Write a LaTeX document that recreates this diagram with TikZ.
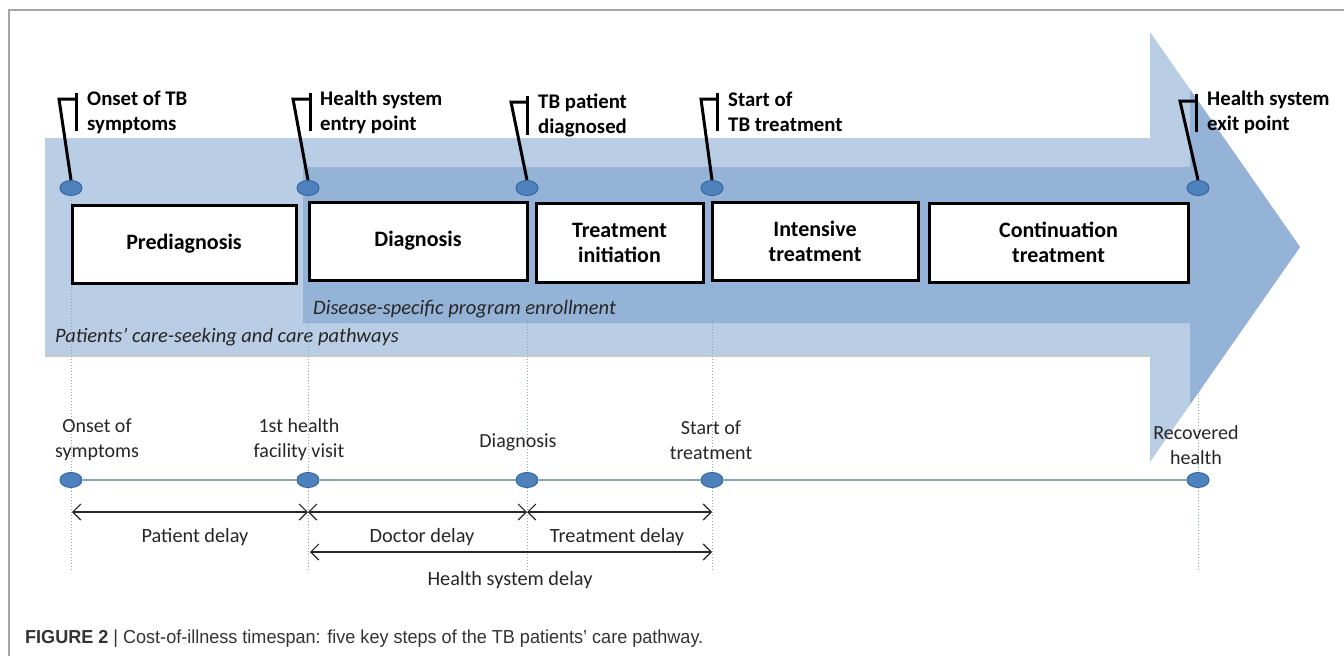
\documentclass[tikz,border=0pt]{standalone}
\usepackage{fontspec}
\setmainfont{Carlito}
\newfontfamily\capfont[FakeStretch=0.96]{Liberation Sans}
\usetikzlibrary{shapes.geometric,arrows.meta}
\definecolor{lightband}{HTML}{B9CDE5}
\definecolor{darkband}{HTML}{95B3D7}
\definecolor{dotfill}{HTML}{4F81BD}
\definecolor{dotedge}{HTML}{3467A3}
\definecolor{guide}{HTML}{8AA4C4}
\definecolor{tline}{HTML}{86A4B4}
\definecolor{txt}{HTML}{262626}
\begin{document}
\begin{tikzpicture}[x=1pt,y=-1pt,
  pin/.style={ellipse,draw=dotedge,fill=dotfill,line width=1pt,minimum width=22pt,minimum height=15pt,inner sep=0pt},
  stagebox/.style={draw=black,fill=white,line width=3pt,align=center,inner sep=0pt,font=\fontsize{22}{25}\selectfont\bfseries},
  callout/.style={anchor=west,align=left,inner sep=0pt,font=\fontsize{20.8}{25}\selectfont\bfseries},
  calloutline/.style={line width=3pt,black,line join=miter},
  guideline/.style={guide,line width=1pt,dotted},
  tlabel/.style={align=center,inner sep=0pt,text=txt,font=\fontsize{20}{25}\selectfont},
  dlabel/.style={inner sep=0pt,text=txt,font=\fontsize{20.3}{24}\selectfont},
  span/.style={{Straight Barb[length=8pt,width=16pt]}-{Straight Barb[length=8pt,width=16pt]},line width=1.2pt,black!85},
  band/.style={anchor=west,inner sep=0pt,text=txt,font=\fontsize{20.5}{24}\selectfont\itshape}
]
\useasboundingbox (0,0) rectangle (1344,656);
% frame
\draw[gray!70,line width=1.2pt] (9,656) -- (9,10) -- (1344,10);
% big arrows
\fill[lightband] (45,138) -- (1150,138) -- (1150,32) -- (1300,247) -- (1150,462) -- (1150,355) -- (45,355) -- cycle;
\draw[black!35,line width=1.5pt,opacity=0.6] (45,356) -- (1150,356);
\fill[darkband] (303,167) -- (1190,167) -- (1190,89.5) -- (1300,247) -- (1190,404.5) -- (1190,323) -- (303,323) -- cycle;
\node[band] (b2) at (313,309) {Disease-specific program enrollment};
\node[band] (b1) at (55,337) {Patients’ care-seeking and care pathways};
% guide lines
\foreach \x/\n in {71/1,308/2,527/3,712/4,1198/5}{
  \coordinate (gt\n) at (\x,188);
  \coordinate (gb\n) at (\x,570);
  \draw[guideline] (gt\n) -- (gb\n);
}
% stage boxes
\node[stagebox,minimum width=224pt,minimum height=78pt] (s1) at (184,244) {Prediagnosis};
\node[stagebox,minimum width=218pt,minimum height=78pt] (s2) at (418,241) {Diagnosis};
\node[stagebox,minimum width=167pt,minimum height=79pt] (s3) at (619.5,242.5) {Treatment\\initiation};
\node[stagebox,minimum width=206pt,minimum height=78pt] (s4) at (815,241) {Intensive\\treatment};
\node[stagebox,minimum width=259pt,minimum height=79pt] (s5) at (1058.5,242.5) {Continuation\\treatment};
% top pins
\node[pin] (p1) at (71,188) {};
\node[pin] (p2) at (308,188) {};
\node[pin] (p3) at (527,188) {};
\node[pin] (p4) at (712,188) {};
\node[pin] (p5) at (1198,188) {};
% callouts
\coordinate (k1) at (59,99);  \coordinate (h1) at (76,99);  \coordinate (u1) at (76,93);  \coordinate (d1) at (76,131);
\coordinate (k2) at (293,99); \coordinate (h2) at (310,99); \coordinate (u2) at (310,93); \coordinate (d2) at (310,131);
\coordinate (k3) at (511,102);\coordinate (h3) at (527,102);\coordinate (u3) at (527,96); \coordinate (d3) at (527,135);
\coordinate (k4) at (701,99); \coordinate (h4) at (717,99); \coordinate (u4) at (717,93); \coordinate (d4) at (717,131);
\coordinate (k5) at (1180,101);\coordinate (h5) at (1196,101);\coordinate (u5) at (1196,94);\coordinate (d5) at (1196,132);
\foreach \n in {1,...,5}{
  \draw[calloutline] (p\n.north) -- (k\n) -- (h\n);
  \draw[calloutline] (u\n) -- (d\n);
}
\node[callout] (l1) at (87,112) {Onset of TB\\symptoms};
\node[callout] (l2) at (320,112) {Health system\\entry point};
\node[callout] (l3) at (538,115) {TB patient\\diagnosed};
\node[callout] (l4) at (728,112) {Start of\\TB treatment};
\node[callout] (l5) at (1207,112) {Health system\\exit point};
% timeline
\node[pin] (q1) at (71,480) {};
\node[pin] (q2) at (308,480) {};
\node[pin] (q3) at (527,480) {};
\node[pin] (q4) at (712,480) {};
\node[pin] (q5) at (1198,480) {};
\draw[tline,line width=1.5pt] (q1.east) -- (q2.west) (q2.east) -- (q3.west) (q3.east) -- (q4.west) (q4.east) -- (q5.west);
\node[tlabel] (t1) at (97,440) {Onset of\\symptoms};
\node[tlabel] (t2) at (299,440) {1st health\\facility visit};
\node[tlabel] (t3) at (518,442) {Diagnosis};
\node[tlabel] (t4) at (711,440) {Start of\\treatment};
\node[tlabel] (t5) at (1196,445) {Recovered\\health};
% delay spans
\coordinate (a1) at (72,512); \coordinate (a2) at (308,512); \coordinate (a3) at (527,512); \coordinate (a4) at (712,512);
\coordinate (c2) at (310,552); \coordinate (c4) at (712,552);
\draw[span] (a1) -- (a2);
\draw[span] (a2) -- (a3);
\draw[span] (a3) -- (a4);
\draw[span] (c2) -- (c4);
\node[dlabel] (e1) at (195,537) {Patient delay};
\node[dlabel] (e2) at (422,537) {Doctor delay};
\node[dlabel] (e3) at (617,537) {Treatment delay};
\node[dlabel] (e4) at (510,580) {Health system delay};
% caption
\node[anchor=base west,inner sep=0pt,font=\capfont\fontsize{18.8}{22}\selectfont,text=black!80] (cap) at (25,643) {\textbf{FIGURE 2} | Cost-of-illness timespan: five key steps of the TB patients’ care pathway.};
\end{tikzpicture}
\end{document}
